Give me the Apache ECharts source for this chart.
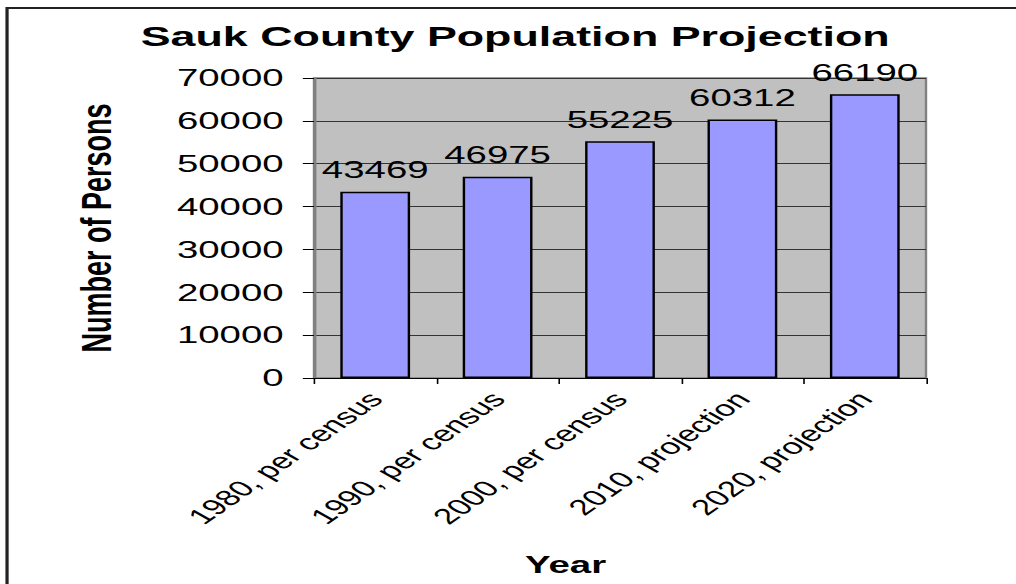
<!DOCTYPE html>
<html>
<head>
<meta charset="utf-8">
<script src="https://cdn.jsdelivr.net/npm/echarts@6/dist/echarts.min.js"></script>
<style>
  html, body { margin: 0; padding: 0; background: #fff; overflow: hidden; }
  #wrap { width: 1016px; height: 584px; overflow: hidden; position: relative; }
  /* the chart is laid out narrow and widened so text keeps its wide look */
  #chart { width: 635px; height: 584px; transform: scaleX(1.6); transform-origin: 0 0; }
</style>
</head>
<body>
<div id="wrap"><div id="chart"></div></div>
<script>
const categories = ['1980, per census', '1990, per census', '2000, per census', '2010, projection', '2020, projection'];
const population = [43469, 46975, 55225, 60312, 66190];
const yTicks = { min: 0, max: 70000, interval: 10000 };

const font = 'Liberation Sans, Arial, sans-serif';
const chart = echarts.init(document.getElementById('chart'), null, { renderer: 'svg' });

chart.setOption({
  animation: false,
  backgroundColor: '#ffffff',
  graphic: [{
    type: 'rect',
    shape: { x: 4.4, y: 8, width: 700, height: 700 },
    style: { fill: 'none', stroke: '#222', lineWidth: 2 },
    silent: true
  }],
  title: {
    text: 'Sauk County Population Projection',
    left: 317, top: 17, textAlign: 'center',
    textStyle: { fontFamily: font, fontWeight: 'bold', fontSize: 28, color: '#000' }
  },
  grid: {
    left: 196.25, top: 78, width: 382.5, height: 300,
    show: true, backgroundColor: '#c0c0c0', borderColor: '#808080', borderWidth: 1.5
  },
  xAxis: {
    type: 'category',
    data: categories,
    name: 'Year',
    nameLocation: 'middle',
    nameGap: 175,
    nameTextStyle: { fontFamily: font, fontWeight: 'bold', fontSize: 24, color: '#000', padding: [0, 68, 0, 0] },
    axisLine: { show: true, lineStyle: { color: '#000', width: 1 } },
    axisTick: { show: true, alignWithLabel: false, length: 6, lineStyle: { color: '#000' } },
    axisLabel: { rotate: 48, margin: 17, fontFamily: font, fontSize: 22, color: '#000', interval: 0 },
    splitLine: { show: false }
  },
  yAxis: {
    type: 'value',
    min: yTicks.min, max: yTicks.max, interval: yTicks.interval,
    name: 'Number of Persons',
    nameLocation: 'middle',
    nameGap: 123,
    nameRotate: 90,
    nameTextStyle: { fontFamily: font, fontWeight: 'bold', fontSize: 27, color: '#000' },
    axisLine: { show: true, lineStyle: { color: '#808080', width: 1.5 } },
    axisTick: { show: true, inside: false, length: 7, lineStyle: { color: '#000' } },
    axisLabel: { margin: 19, fontFamily: font, fontSize: 24, color: '#000', formatter: v => String(v) },
    splitLine: { show: true, lineStyle: { color: '#333', width: 1 } }
  },
  series: [{
    type: 'bar',
    data: population,
    barWidth: '57%',
    itemStyle: { color: '#9999ff', borderColor: '#000', borderWidth: 1.5 },
    label: {
      show: true, position: 'top', distance: 10,
      fontFamily: font, fontSize: 24, color: '#000'
    }
  }]
});
</script>
</body>
</html>
